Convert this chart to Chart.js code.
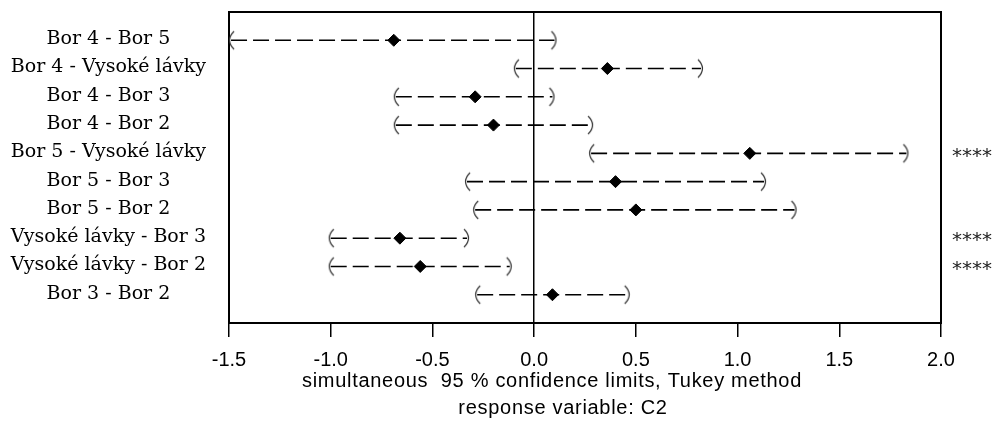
<!DOCTYPE html>
<html>
<head>
<meta charset="utf-8">
<script src="https://cdn.jsdelivr.net/npm/chart.js@4.4.1/dist/chart.umd.min.js"></script>
<style>
  html, body { margin: 0; padding: 0; background: #fff; }
  #c { display: block; }
</style>
</head>
<body>
<canvas id="c" width="1002" height="421"></canvas>
<script>
// ---- data ----
const comparisons = [
  "Bor 4 - Bor 5",
  "Bor 4 - Vysoké lávky",
  "Bor 4 - Bor 3",
  "Bor 4 - Bor 2",
  "Bor 5 - Vysoké lávky",
  "Bor 5 - Bor 3",
  "Bor 5 - Bor 2",
  "Vysoké lávky - Bor 3",
  "Vysoké lávky - Bor 2",
  "Bor 3 - Bor 2"
];
const lowerLimits = [-1.49, -0.09, -0.68, -0.68, 0.28, -0.33, -0.29, -1.00, -1.00, -0.28];
const estimates   = [-0.69,  0.36, -0.29, -0.20, 1.06,  0.40,  0.50, -0.66, -0.56,  0.09];
const upperLimits = [ 0.10,  0.82,  0.09,  0.28, 1.83,  1.13,  1.28, -0.33, -0.12,  0.46];
const significance = ["", "", "", "", "****", "", "", "****", "****", ""];
const xTicks = [-1.5, -1.0, -0.5, 0.0, 0.5, 1.0, 1.5, 2.0];
const xTitle = ["simultaneous  95 % confidence limits, Tukey method", "response variable: C2"];

const rows = comparisons.map((_, i) => i + 1);

function makeParen(left) {
  const c = document.createElement('canvas');
  c.width = 10; c.height = 22;
  const g = c.getContext('2d');
  g.strokeStyle = '#333';
  g.lineWidth = 1.2;
  g.beginPath();
  if (left) { g.moveTo(8, 2); g.quadraticCurveTo(-1, 11, 8, 20); }
  else { g.moveTo(2, 2); g.quadraticCurveTo(11, 11, 2, 20); }
  g.stroke();
  return c;
}
const leftParen = makeParen(true);
const rightParen = makeParen(false);

const intervalSets = comparisons.map((name, i) => ({
  label: name,
  showLine: true,
  data: [{ x: lowerLimits[i], y: rows[i] }, { x: upperLimits[i], y: rows[i] }],
  borderColor: '#000',
  borderWidth: 1.6,
  borderDash: [16, 6],
  pointStyle: [leftParen, rightParen],
  pointRadius: 6,
  pointHoverRadius: 6,
  order: 2,
  clip: false
}));

const estimateSet = {
  label: 'estimate',
  data: estimates.map((v, i) => ({ x: v, y: rows[i] })),
  pointStyle: 'rectRot',
  pointRadius: 6,
  pointHoverRadius: 6,
  backgroundColor: '#000',
  borderColor: '#000',
  borderWidth: 1,
  order: 1,
  clip: false
};

const framePlugin = {
  id: 'frame',
  beforeDatasetsDraw(chart) {
    const { ctx, chartArea: a } = chart;
    ctx.save();
    ctx.strokeStyle = '#000';
    ctx.lineWidth = 2;
    ctx.strokeRect(a.left, a.top, a.right - a.left, a.bottom - a.top);
    ctx.restore();
  }
};

const xTitlePlugin = {
  id: 'xtitle',
  afterDraw(chart) {
    const ctx = chart.ctx;
    ctx.save();
    ctx.fillStyle = '#000';
    ctx.font = '20px "Liberation Sans", Arial, sans-serif';
    try { ctx.letterSpacing = '0.7px'; } catch (e) {}
    ctx.textAlign = 'center';
    ctx.textBaseline = 'alphabetic';
    ctx.fillText(xTitle[0], 552, 387);
    ctx.fillText(xTitle[1], 563, 414);
    ctx.restore();
  }
};

const rowTicks = s => { s.ticks = rows.map(v => ({ value: v })); };
const fitVertical = w => s => { s.width = w; s.paddingTop = 0; s.paddingBottom = 0; };

new Chart(document.getElementById('c'), {
  type: 'scatter',
  data: { datasets: [estimateSet, ...intervalSets] },
  options: {
    responsive: false,
    animation: false,
    events: [],
    layout: { padding: { top: 12, left: 0, right: 0, bottom: 0 } },
    plugins: { legend: { display: false }, tooltip: { enabled: false } },
    scales: {
      x: {
        type: 'linear', position: 'bottom', min: -1.5, max: 2.0,
        afterBuildTicks: s => { s.ticks = xTicks.map(v => ({ value: v })); },
        afterFit: s => { s.height = 98; s.paddingLeft = 0; s.paddingRight = 0; },
        ticks: {
          callback: v => Number(v).toFixed(1),
          font: { family: '"Liberation Sans", Arial, sans-serif', size: 20 },
          color: '#000', padding: 11, autoSkip: false, maxRotation: 0
        },
        grid: {
          color: c => (c.tick && c.tick.value === 0) ? '#000' : 'rgba(0,0,0,0)',
          lineWidth: 1.5, tickColor: '#000', tickLength: 14, tickWidth: 1.5,
          drawOnChartArea: true
        },
        border: { display: false }
      },
      y: {
        type: 'linear', position: 'left', min: 0, max: 11, reverse: true,
        afterBuildTicks: rowTicks,
        afterFit: fitVertical(229),
        ticks: {
          callback: v => comparisons[Math.round(v) - 1] || '',
          crossAlign: 'center', padding: 23, labelOffset: -1,
          font: { family: '"DejaVu Serif", serif', size: 19 },
          color: '#000', autoSkip: false
        },
        grid: { display: false, drawTicks: false },
        border: { display: false }
      },
      y2: {
        type: 'linear', position: 'right', min: 0, max: 11, reverse: true,
        afterBuildTicks: rowTicks,
        afterFit: fitVertical(61),
        ticks: {
          callback: v => significance[Math.round(v) - 1] || '',
          padding: 11, labelOffset: 3,
          font: { family: '"DejaVu Sans", sans-serif', size: 20 },
          color: '#222', autoSkip: false
        },
        grid: { display: false, drawTicks: false },
        border: { display: false }
      }
    }
  },
  plugins: [framePlugin, xTitlePlugin]
});
</script>
</body>
</html>
